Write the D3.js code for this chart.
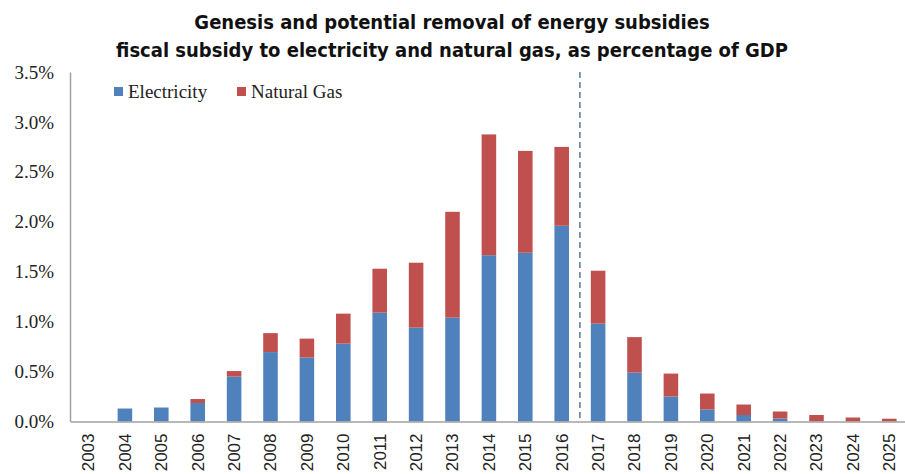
<!DOCTYPE html>
<html><head><meta charset="utf-8">
<script src="https://cdn.jsdelivr.net/npm/d3@7"></script>
<style>body{margin:0;background:#fff}svg{display:block}</style>
</head><body>
<svg id="c" width="905" height="474"></svg>
<script>
const years = ["2003","2004","2005","2006","2007","2008","2009","2010","2011","2012","2013","2014","2015","2016","2017","2018","2019","2020","2021","2022","2023","2024","2025"];
const electricity = [0,0.13,0.14,0.185,0.45,0.695,0.64,0.78,1.09,0.94,1.04,1.665,1.69,1.96,0.98,0.49,0.25,0.12,0.065,0.03,0.005,0.0,0.0];
const naturalGas = [0,0,0,0.04,0.055,0.19,0.19,0.30,0.44,0.65,1.06,1.21,1.02,0.79,0.53,0.355,0.23,0.16,0.105,0.07,0.06,0.04,0.028];
const yTicks = [0,0.5,1.0,1.5,2.0,2.5,3.0,3.5];
const seriesNames = ["Electricity","Natural Gas"];
const colors = ["#4f81bd","#c0504d"];
const titleLines = ["Genesis and potential removal of energy subsidies","fiscal subsidy to electricity and natural gas, as percentage of GDP"];
const forecastStart = "2017";

const svg = d3.select("#c");
const x = d3.scaleBand().domain(years).range([70.3, 907.5]).paddingInner(0.6).paddingOuter(0.3);
const y = d3.scaleLinear().domain([0,3.5]).range([421.5, 72]);

const data = years.map((yr,i)=>({year:yr, Electricity:electricity[i], "Natural Gas":naturalGas[i]}));
const stack = d3.stack().keys(seriesNames)(data);

svg.append("g").selectAll("g").data(stack).join("g").attr("fill",(d,i)=>colors[i])
  .selectAll("rect").data(d=>d).join("rect")
  .attr("x",d=>x(d.data.year)).attr("width",x.bandwidth())
  .attr("y",d=>y(d[1])).attr("height",d=>Math.max(0,y(d[0])-y(d[1])));

// axes
const yAxis = d3.axisLeft(y).tickValues(yTicks).tickFormat(d=>d.toFixed(1)+"%").tickSize(0).tickPadding(16);
const gy = svg.append("g").attr("transform","translate(70,0)").call(yAxis);
gy.select(".domain").attr("stroke","#a0a0a0").attr("stroke-width",1.5);
gy.selectAll("text").attr("font-family","Liberation Serif, serif").attr("font-size",19).attr("fill","#222");

const xAxis = d3.axisBottom(x).tickSize(0).tickPadding(0);
const gx = svg.append("g").attr("transform","translate(0,421.5)").call(xAxis);
gx.select(".domain").attr("stroke","#a0a0a0").attr("stroke-width",1.5);
gx.selectAll("text").attr("font-family","Liberation Sans, Arial, sans-serif").attr("font-size",17).attr("fill","#222")
  .attr("transform","rotate(-90)").attr("text-anchor","end").attr("dy","0.35em").attr("x",-12).attr("y",0);

// dashed divider
const xs = x(forecastStart) - (x.step()-x.bandwidth())/2;
svg.append("line").attr("x1",xs).attr("x2",xs).attr("y1",y(3.5)).attr("y2",y(0))
  .attr("stroke","#5a7899").attr("stroke-width",1.5).attr("stroke-dasharray","6,4");

// title
svg.append("g").selectAll("text").data(titleLines).join("text")
  .attr("x",452).attr("y",(d,i)=>29+i*28).attr("text-anchor","middle")
  .attr("font-family","Liberation Sans Narrow, DejaVu Sans Condensed, sans-serif").attr("font-weight","bold")
  .attr("font-size",20).attr("fill","#111").text(d=>d);

// legend
const leg = svg.append("g");
const legX = [114, 237];
seriesNames.forEach((n,i)=>{
  leg.append("rect").attr("x",legX[i]).attr("y",87).attr("width",9).attr("height",9).attr("fill",colors[i]);
  leg.append("text").attr("x",legX[i]+14).attr("y",98).attr("font-family","Liberation Serif, serif")
    .attr("font-size",19).attr("fill","#222").text(n);
});
</script>
</body></html>
